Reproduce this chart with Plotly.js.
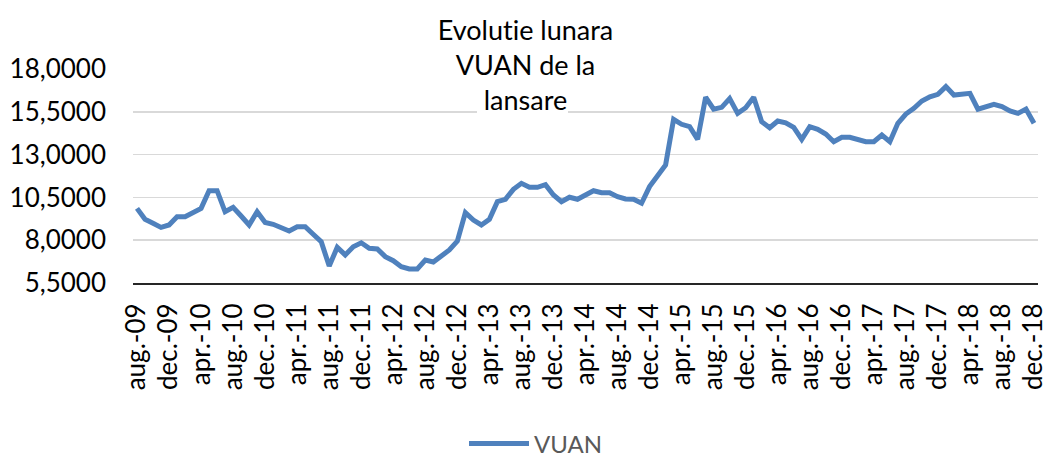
<!DOCTYPE html>
<html>
<head>
<meta charset="utf-8">
<script src="https://cdn.plot.ly/plotly-3.0.1.min.js"></script>
<style>
html,body{margin:0;padding:0;background:#fff;}
#chart{width:1051px;height:458px;}
#chart text{font-variant-ligatures:none;font-feature-settings:"liga" 0,"clig" 0;}
</style>
</head>
<body>
<div id="chart"></div>
<script>
// Month abbreviations (Romanian) used for category labels
var monthNames = ["ian.", "feb.", "mar.", "apr.", "mai", "iun.", "iul.", "aug.", "sept.", "oct.", "nov.", "dec."];
var startYear = 2009, startMonth = 7; // aug. 2009
var seriesName = "VUAN";

// VUAN monthly values, aug.-09 .. dec.-18
var vuan = [
  9.86, 9.22, 8.99, 8.75, 8.89, 9.37, 9.37, 9.63, 9.86, 10.89,
  10.89, 9.66, 9.92, 9.41, 8.89, 9.66, 9.04, 8.93, 8.70, 8.54,
  8.79, 8.79, 8.35, 7.91, 6.49, 7.58, 7.14, 7.62, 7.85, 7.53,
  7.49, 7.04, 6.80, 6.45, 6.32, 6.32, 6.84, 6.73, 7.08, 7.43,
  7.95, 9.61, 9.18, 8.89, 9.22, 10.25, 10.39, 10.97, 11.32, 11.09,
  11.09, 11.24, 10.64, 10.25, 10.51, 10.39, 10.64, 10.89, 10.77, 10.77,
  10.54, 10.41, 10.39, 10.16, 11.13, 11.81, 12.39, 15.06, 14.77, 14.63,
  13.89, 16.35, 15.65, 15.76, 16.27, 15.41, 15.74, 16.35, 14.92, 14.57,
  14.96, 14.86, 14.59, 13.89, 14.63, 14.48, 14.20, 13.75, 14.01, 14.01,
  13.89, 13.75, 13.75, 14.14, 13.75, 14.83, 15.37, 15.70, 16.13, 16.38,
  16.52, 16.97, 16.48, 16.54, 16.58, 15.65, 15.80, 15.94, 15.80, 15.55,
  15.41, 15.66, 14.83
];

// Y-axis tick values
var yTicks = [5.5, 8, 10.5, 13, 15.5, 18];

// Build category labels "aug.-09" etc.
var categories = [];
for (var i = 0; i < vuan.length; i++) {
  var m = (startMonth + i) % 12;
  var y = startYear + Math.floor((startMonth + i) / 12);
  categories.push(monthNames[m] + "-" + String(y % 100).padStart(2, "0"));
}
var xTickVals = categories.filter(function (c, i) { return i % 4 === 0; });

var FONT = "Lato, 'Open Sans', sans-serif";

var trace = {
  x: categories,
  y: vuan,
  type: "scatter",
  mode: "lines",
  name: seriesName,
  line: { color: "#4f81bd", width: 5 }
};

var layout = {
  width: 1051,
  height: 458,
  margin: { l: 133, r: 13, t: 69, b: 175 },
  paper_bgcolor: "#ffffff",
  plot_bgcolor: "#ffffff",
  separators: ",.",
  font: { family: FONT, size: 26, color: "#000000" },
  title: {
    text: "Evolutie lunara<br>VUAN de la<br>lansare",
    font: { family: FONT, size: 27, color: "#000000" },
    x: 0.5, xref: "container", xanchor: "center",
    y: 1 - 40 / 458, yref: "container", yanchor: "middle"
  },
  xaxis: {
    type: "category",
    range: [-0.5, vuan.length - 0.5],
    tickmode: "array",
    tickvals: xTickVals,
    ticktext: xTickVals,
    tickangle: -90,
    tickfont: { family: FONT, size: 26, color: "#000000" },
    showgrid: false,
    showline: true,
    linecolor: "#262626",
    linewidth: 2,
    ticks: "",
    ticklabelstandoff: 8,
    zeroline: false,
    fixedrange: true
  },
  yaxis: {
    range: [5.5, 18],
    tickmode: "array",
    tickvals: yTicks,
    tickformat: ".4f",
    tickfont: { family: FONT, size: 26, color: "#000000" },
    showgrid: true,
    gridcolor: "#d9d9d9",
    gridwidth: 1.5,
    showline: false,
    zeroline: false,
    ticks: "",
    ticklabelstandoff: 26,
    fixedrange: true
  },
  showlegend: true,
  legend: {
    orientation: "h",
    xref: "container", yref: "container",
    x: 536 / 1051, xanchor: "center",
    y: 1 - 444 / 458, yanchor: "middle",
    itemwidth: 60,
    font: { family: FONT, size: 24, color: "#595959" },
    bgcolor: "rgba(0,0,0,0)"
  },
  shapes: [
    { type: "rect", xref: "paper", yref: "paper", layer: "above",
      x0: (455 - 133) / 905, x1: (592 - 133) / 905, y0: (283 - 76) / 214, y1: (283 - 62) / 214,
      fillcolor: "#ffffff", line: { width: 0 } },
    { type: "rect", xref: "paper", yref: "paper", layer: "above",
      x0: (477 - 133) / 905, x1: (568 - 133) / 905, y0: (283 - 115) / 214, y1: (283 - 100) / 214,
      fillcolor: "#ffffff", line: { width: 0 } }
  ]
};

Plotly.newPlot("chart", [trace], layout, { displayModeBar: false, staticPlot: true });
</script>
</body>
</html>
